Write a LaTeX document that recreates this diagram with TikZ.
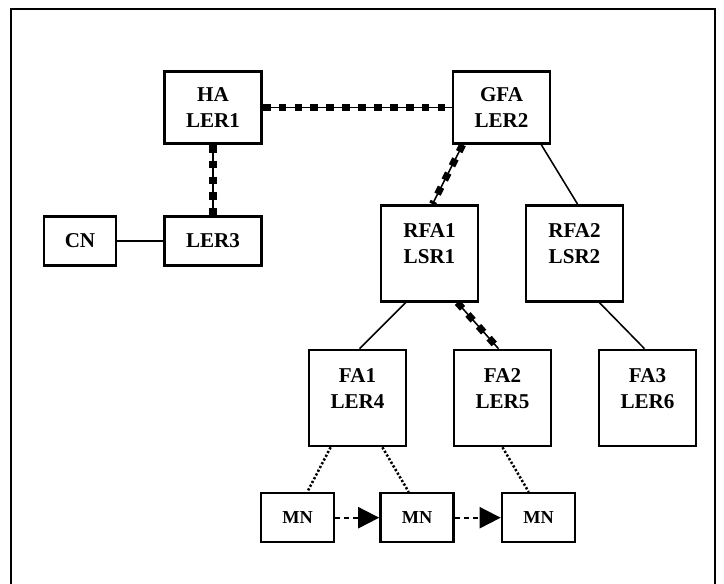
\documentclass[tikz,border=0pt]{standalone}
\usepackage{fontspec}
\setmainfont{Liberation Serif}
\usetikzlibrary{arrows.meta,calc}

\begin{document}
\begin{tikzpicture}[x=0.025cm, y=-0.025cm, >=Triangle,
    font=\fontsize{15}{18.5}\selectfont\bfseries,
    box/.style={rectangle, draw, line width=1.8pt, align=center, inner sep=0pt},
    agent/.style={box, minimum width=2.425cm, minimum height=1.8cm},
    edge/.style={box, minimum width=2.425cm, minimum height=1.225cm},
    tallbox/.style={box, minimum width=2.425cm, minimum height=2.4cm},
    mnbox/.style={box, minimum width=1.825cm, minimum height=1.225cm, font=\fontsize{13}{16}\selectfont\bfseries},
    toplbl/.style={anchor=north, inner sep=0pt, yshift=-0.48cm, align=center},
    link/.style={line width=1.1pt},
    tunnel/.style={line width=1.1pt, postaction={draw, line width=5pt, dash pattern=on 5.5pt off 5.8pt}},
    radio/.style={line width=1.8pt, dash pattern=on 1.6pt off 1.4pt},
    move/.style={->, line width=1.4pt, dash pattern=on 3.4pt off 3pt, -{Triangle[length=15pt, width=15pt]}}]
    \useasboundingbox (0,0) rectangle (724,584);

    % outer frame
    \draw[line width=1.8pt] (11,584) -- (11,9) -- (715,9) -- (715,584);

    % home and gateway agents
    \node[agent] (ha) at (213,107.5) {HA\\LER1};
    \node[agent] (gfa) at (501.5,107.5) {GFA\\LER2};
    \node[edge, minimum width=1.8cm] (cn) at (80,241) {CN};
    \node[edge] (ler3) at (213,241) {LER3};

    % regional agents
    \node[tallbox, label={[toplbl]north:RFA1\\LSR1}] (rfa1) at (429.5,253.3) {};
    \node[tallbox, label={[toplbl]north:RFA2\\LSR2}] (rfa2) at (574.5,253.3) {};

    % foreign agents
    \node[tallbox, label={[toplbl]north:FA1\\LER4}] (fa1) at (357.5,398) {};
    \node[tallbox, label={[toplbl]north:FA2\\LER5}] (fa2) at (502.5,398) {};
    \node[tallbox, label={[toplbl]north:FA3\\LER6}] (fa3) at (647.5,398) {};

    % mobile node positions
    \node[mnbox] (mn1) at (297.5,517.7) {MN};
    \node[mnbox] (mn2) at (417,517.7) {MN};
    \node[mnbox] (mn3) at (538.5,517.7) {MN};

    % wired links
    \draw[link] (cn.east) -- (ler3.west);
    \draw[link] ($(gfa.south west)!.9!(gfa.south east)$) -- ($(rfa2.north west)!.53!(rfa2.north east)$);
    \draw[link] ($(rfa1.south west)!.26!(rfa1.south east)$) -- ($(fa1.north west)!.52!(fa1.north east)$);
    \draw[link] ($(rfa2.south west)!.75!(rfa2.south east)$) -- ($(fa3.north west)!.47!(fa3.north east)$);

    % LSP tunnels
    \draw[tunnel] (ha.east) -- (gfa.west);
    \draw[tunnel] (ha.south) -- (ler3.north);
    \draw[tunnel] ($(gfa.south west)!.11!(gfa.south east)$) -- ($(rfa1.north west)!.53!(rfa1.north east)$);
    \draw[tunnel] ($(rfa1.south west)!.78!(rfa1.south east)$) -- ($(fa2.north west)!.46!(fa2.north east)$);

    % radio links
    \draw[radio] ($(fa1.south west)!.23!(fa1.south east)$) -- ($(mn1.north west)!.63!(mn1.north east)$);
    \draw[radio] ($(fa1.south west)!.75!(fa1.south east)$) -- ($(mn2.north west)!.39!(mn2.north east)$);
    \draw[radio] ($(fa2.south west)!.5!(fa2.south east)$) -- ($(mn3.north west)!.37!(mn3.north east)$);

    % movement
    \draw[move] (mn1.east) -- (mn2.west);
    \draw[move] (mn2.east) -- (mn3.west);
\end{tikzpicture}
\end{document}
